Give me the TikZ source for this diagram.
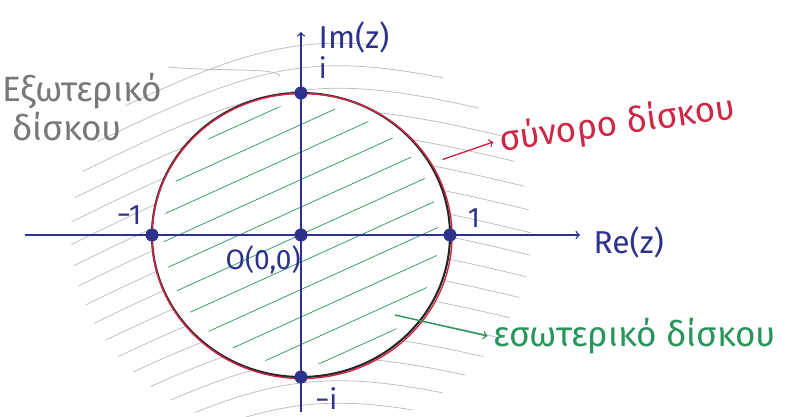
\documentclass[tikz,border=0pt]{standalone}
\usepackage{fontspec}
\setmainfont{Fira Sans}
\usepackage{tikz}
\usetikzlibrary{positioning}
\definecolor{inkblue}{RGB}{45, 50, 140}
\definecolor{inkred}{RGB}{205, 40, 70}
\definecolor{inkgreen}{RGB}{40, 150, 90}
\definecolor{inkgray}{RGB}{185, 185, 185}

\begin{document}
\begin{tikzpicture}[
    axis/.style={->, thick, color=inkblue},
    pt/.style={circle, fill=inkblue, draw=inkblue, inner sep=0pt, minimum size=7pt},
    ptlabel/.style={font=\fontsize{16}{18}\selectfont, color=inkblue},
    note/.style={font=\fontsize{20}{22}\selectfont, align=left}
  ]
    \useasboundingbox (0, 0) rectangle (15.98, 8.34);

    % Hatching outside the disk
    \begin{scope}[even odd rule]
      \clip (6.02, 3.64) ellipse (4.6 and 4.0) (6.02, 3.64) ellipse (2.98 and 2.84);
      \foreach \k in {-14,...,14}
        \draw[inkgray, thin] (0, 3.64+\k*0.45-2.7) .. controls (6, 3.64+\k*0.45+0.3) .. (12, 3.64+\k*0.45-1.2);
    \end{scope}

    % Hatching inside the disk
    \begin{scope}
      \clip (6.02, 3.64) ellipse (2.75 and 2.6);
      \foreach \k in {-10,...,10}
        \draw[inkgreen, thin] (2.8, 3.64+\k*0.55-1.45) -- (9.2, 3.64+\k*0.55+1.45);
    \end{scope}

    % Boundary of the disk
    \draw[very thick, color=black!85] (6.02, 3.64) ellipse (2.98 and 2.84);
    \draw[thick, color=inkred] (6.04, 3.62) ellipse (3.0 and 2.85);

    % Axes
    \coordinate (xmin) at (0.5, 3.64);
    \coordinate (xmax) at (11.6, 3.64);
    \coordinate (ymin) at (6.02, 0.1);
    \coordinate (ymax) at (6.02, 7.7);
    \draw[axis] (xmin) -- (xmax);
    \draw[axis] (ymin) -- (ymax);
    \node[ptlabel, font=\fontsize{18}{20}\selectfont, anchor=west] (relabel) at (11.75, 3.5) {Re(z)};
    \node[ptlabel, font=\fontsize{18}{20}\selectfont, anchor=west] (imlabel) at (6.25, 7.6) {Im(z)};

    % Points
    \node[pt] (orig) at (6.02, 3.64) {};
    \node[pt] (mone) at (3.04, 3.64) {};
    \node[pt] (one) at (9.0, 3.64) {};
    \node[pt] (imag) at (6.02, 6.48) {};
    \node[pt] (mimag) at (6.02, 0.8) {};
    \node[ptlabel, below left=0pt and -6pt of orig] (origlabel) {O(0,0)};
    \node[ptlabel, above left=0pt and 0pt of mone] (monelabel) {−1};
    \node[ptlabel, above right=-2pt and 4pt of one] (onelabel) {1};
    \node[ptlabel, above right=2pt and 4pt of imag] (imaglabel) {i};
    \node[ptlabel, below right=0pt and 2pt of mimag] (mimaglabel) {−i};

    % Labels
    \node[note, color=inkgray!65!black] (extlabel) at (1.65, 6.2) {Εξωτερικό\\\ δίσκου};
    \draw[inkgray, thin] (extlabel.north east) .. controls (4.5, 6.9) and (5.6, 7.0) .. (5.6, 6.8);
    \node[note, color=inkred, rotate=8] (bdlabel) at (12.35, 5.85) {σύνορο δίσκου};
    \coordinate (bd) at (8.85, 5.15);
    \draw[->, thick, color=inkred] (bd) -- (bdlabel.west);
    \node[note, color=inkgreen, anchor=west] (intlabel) at (9.75, 1.62) {εσωτερικό δίσκου};
    \coordinate (int) at (7.9, 2.04);
    \draw[->, thick, color=inkgreen] (int) -- (intlabel.west);
  \end{tikzpicture}
\end{document}
